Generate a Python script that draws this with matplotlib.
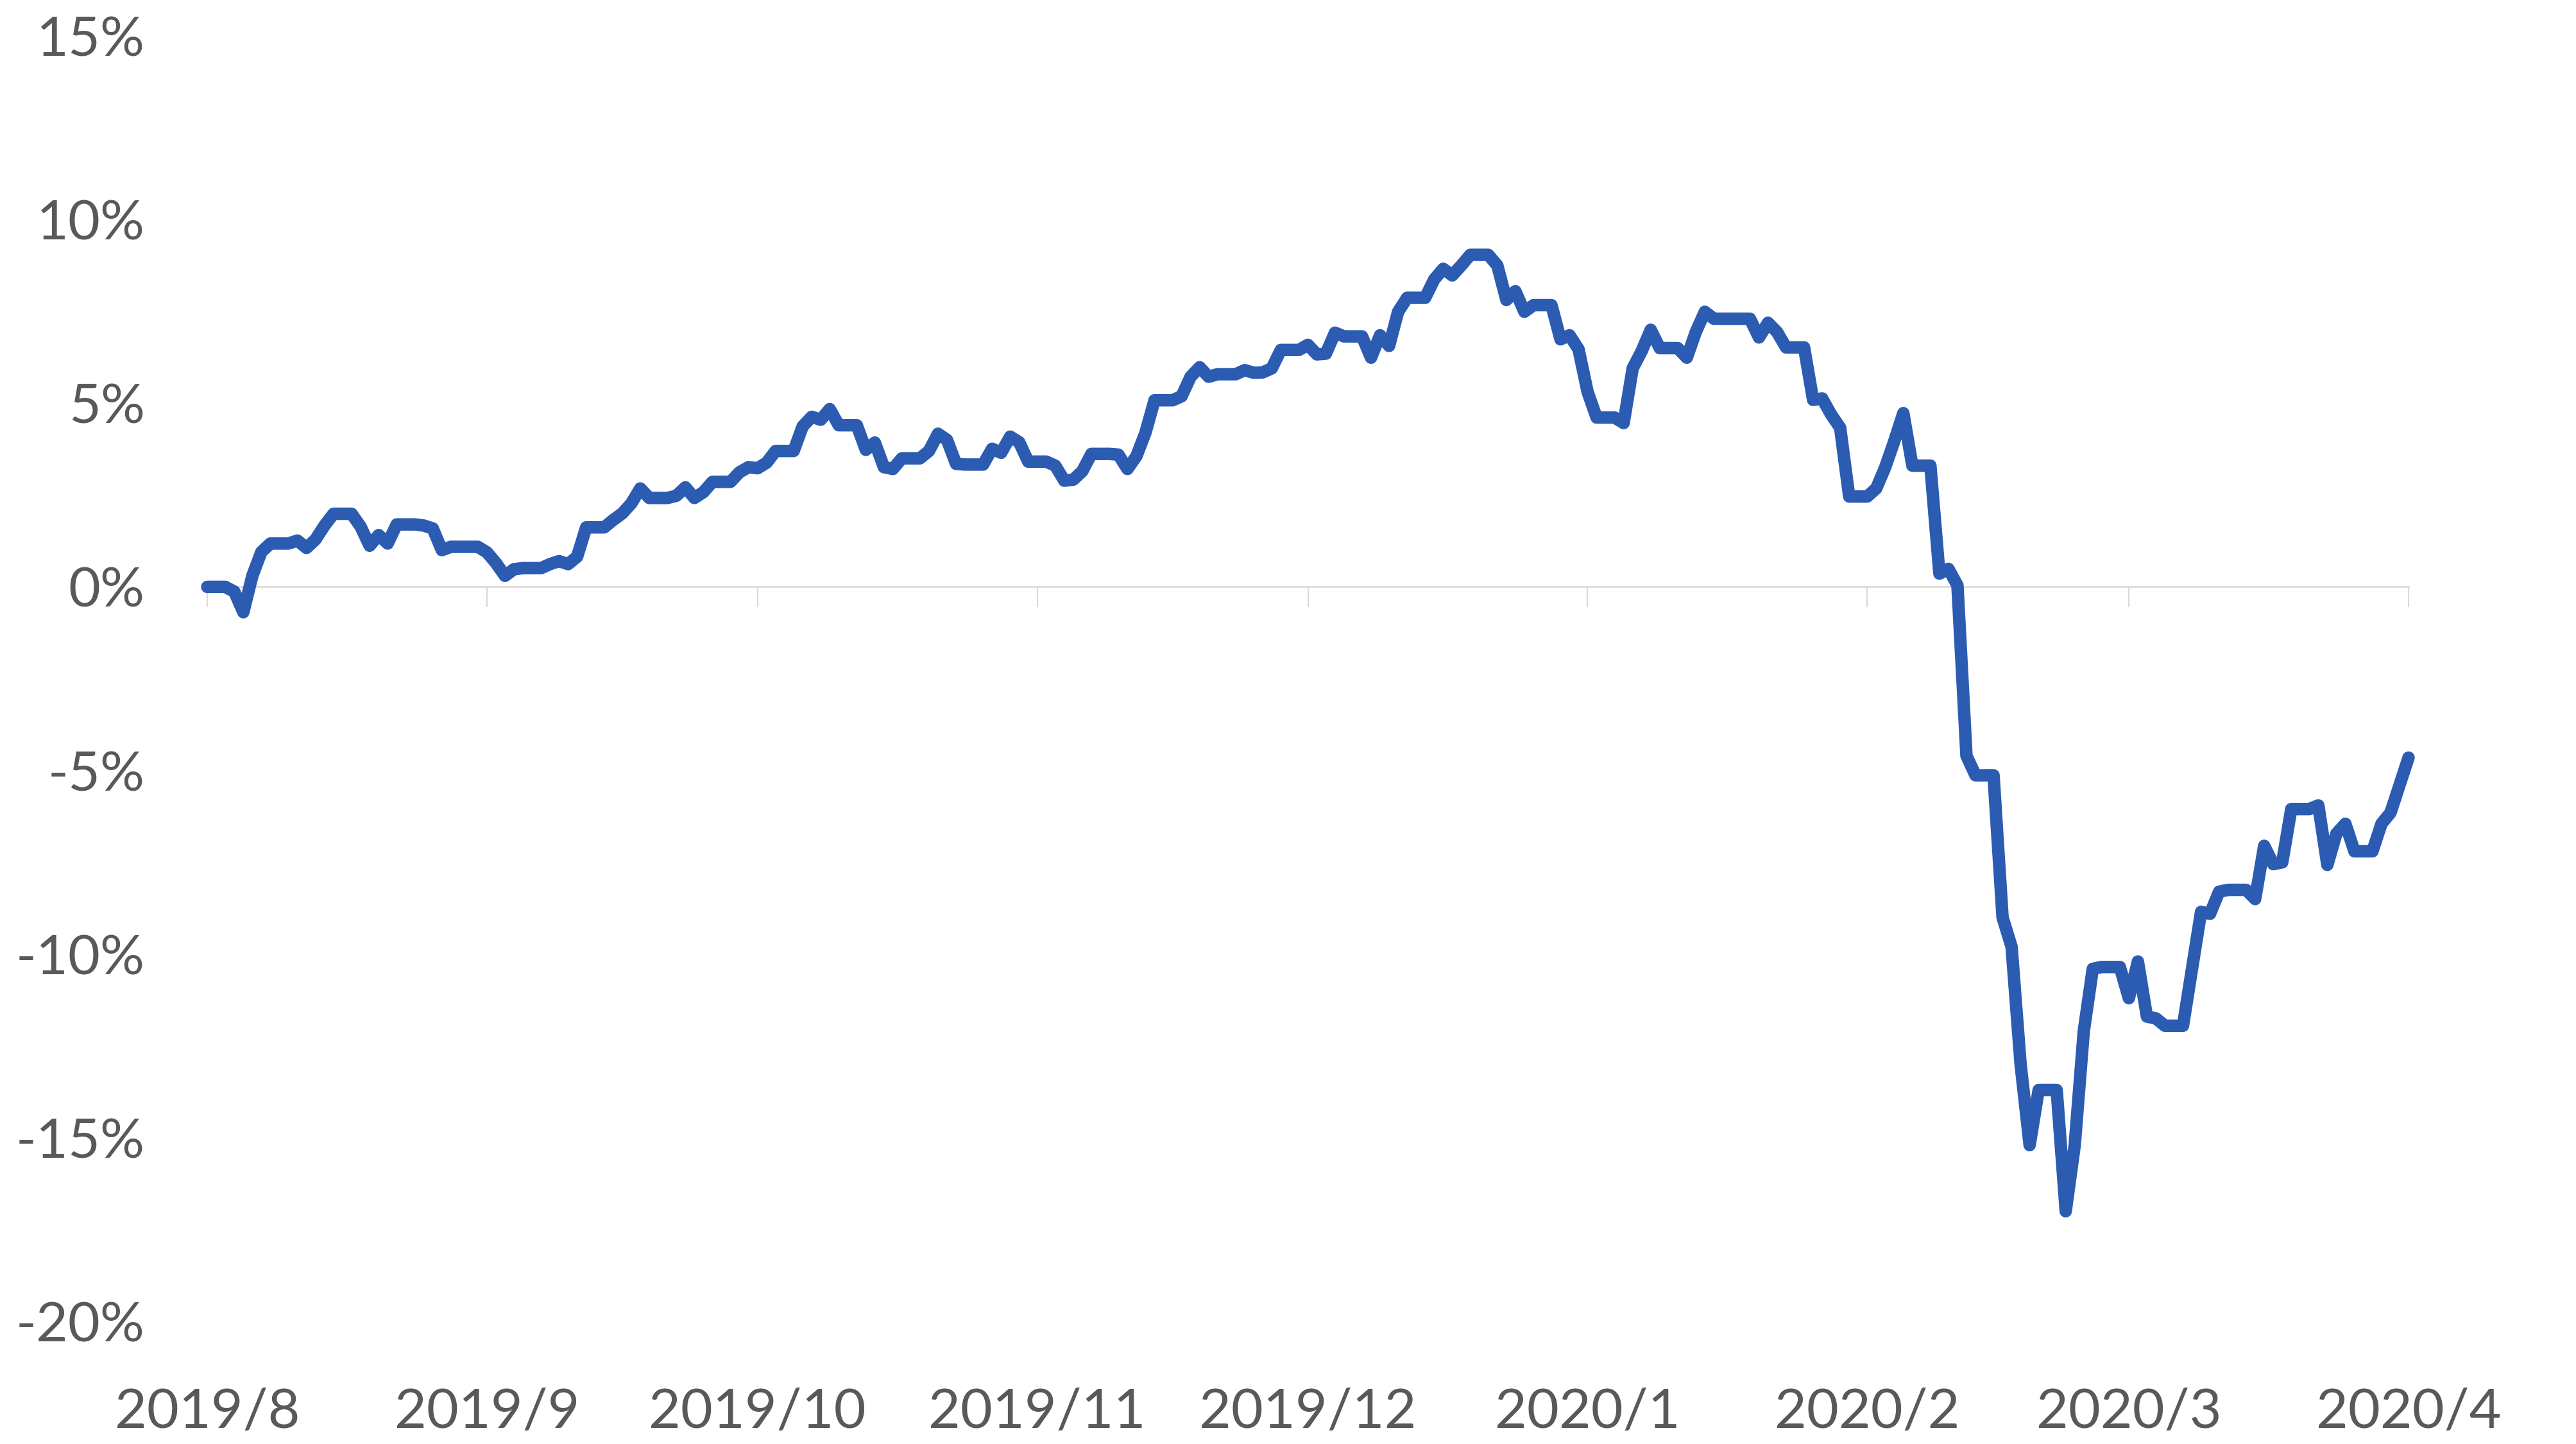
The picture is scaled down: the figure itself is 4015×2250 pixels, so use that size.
import pandas as pd
import matplotlib.pyplot as plt
import matplotlib.dates as mdates

# cumulative return (%), one value per calendar day starting Fri 2019-08-02
# each row is one week: Fri Sat Sun Mon Tue Wed Thu
returns_pct = [
    0.00, 0.00, 0.00, -0.13, -0.69, 0.30, 0.95,
    1.18, 1.18, 1.18, 1.26, 1.06, 1.29, 1.67,
    1.99, 1.99, 1.99, 1.64, 1.12, 1.41, 1.18,
    1.70, 1.70, 1.70, 1.67, 1.59, 1.00, 1.09,
    1.09, 1.09, 1.09, 0.94, 0.65, 0.30, 0.48,
    0.51, 0.51, 0.51, 0.62, 0.70, 0.62, 0.82,
    1.62, 1.62, 1.62, 1.82, 2.00, 2.27, 2.68,
    2.42, 2.42, 2.42, 2.48, 2.71, 2.42, 2.58,
    2.86, 2.86, 2.86, 3.12, 3.26, 3.23, 3.38,
    3.70, 3.70, 3.70, 4.37, 4.63, 4.55, 4.84,
    4.40, 4.40, 4.40, 3.73, 3.93, 3.26, 3.21,
    3.50, 3.50, 3.50, 3.70, 4.17, 4.00, 3.35,
    3.33, 3.33, 3.33, 3.76, 3.65, 4.09, 3.94,
    3.41, 3.41, 3.41, 3.30, 2.89, 2.92, 3.15,
    3.62, 3.62, 3.62, 3.60, 3.21, 3.56, 4.20,
    5.08, 5.08, 5.08, 5.19, 5.72, 5.98, 5.72,
    5.79, 5.79, 5.79, 5.90, 5.83, 5.84, 5.95,
    6.45, 6.45, 6.45, 6.59, 6.33, 6.35, 6.92,
    6.82, 6.82, 6.82, 6.24, 6.85, 6.56, 7.49,
    7.87, 7.87, 7.87, 8.37, 8.66, 8.48, 8.75,
    9.04, 9.04, 9.04, 8.75, 7.81, 8.05, 7.49,
    7.67, 7.67, 7.67, 6.74, 6.85, 6.47, 5.31,
    4.61, 4.61, 4.61, 4.46, 5.95, 6.42, 7.00,
    6.50, 6.50, 6.50, 6.24, 6.94, 7.49, 7.30,
    7.30, 7.30, 7.30, 7.30, 6.79, 7.19, 6.94,
    6.52, 6.52, 6.52, 5.09, 5.13, 4.69, 4.33,
    2.46, 2.46, 2.46, 2.68, 3.26, 3.97, 4.73,
    3.30, 3.30, 3.30, 0.36, 0.49, 0.04, -4.60,
    -5.13, -5.13, -5.13, -9.00, -9.80, -13.00, -15.20,
    -13.70, -13.70, -13.70, -17.00, -15.20, -12.10, -10.40,
    -10.35, -10.35, -10.35, -11.20, -10.20, -11.70, -11.75,
    -11.95, -11.95, -11.95, -10.40, -8.85, -8.90, -8.30,
    -8.25, -8.25, -8.25, -8.50, -7.05, -7.55, -7.50,
    -6.05, -6.05, -6.05, -5.95, -7.57, -6.72, -6.45,
    -7.20, -7.20, -7.20, -6.45, -6.15, -5.40, -4.65,
]
start_date = '2019-08-02'

month_labels = ['2019/8', '2019/9', '2019/10', '2019/11', '2019/12',
                '2020/1', '2020/2', '2020/3', '2020/4']
y_ticks = [-20, -15, -10, -5, 0, 5, 10, 15]
y_labels = [f'{v}%' for v in y_ticks]

dates = pd.date_range(start_date, periods=len(returns_pct), freq='D')
tick_dates = pd.date_range(start_date, periods=len(month_labels),
                           freq=pd.DateOffset(months=1))

plt.rcParams['font.family'] = ['Lato', 'DejaVu Sans']

W, H = 4016, 2250
fig = plt.figure(figsize=(W / 100, H / 100), dpi=100)
ax = fig.add_axes([323 / W, 1 - 2059 / H, (3754 - 323) / W, (2059 - 56) / H])

ax.plot(dates, returns_pct, color='#2B5CB2', lw=14,
        solid_joinstyle='round', solid_capstyle='round',
        clip_on=False, zorder=5)

ax.set_xlim(dates[0], dates[-1])
ax.set_ylim(-20, 15)
ax.set_yticks(y_ticks)
ax.set_yticklabels(y_labels)
ax.set_xticks(tick_dates)
ax.set_xticklabels(month_labels)
for s in ax.spines.values():
    s.set_visible(False)
ax.tick_params(axis='both', length=0, labelsize=62, labelcolor='#595959')
ax.tick_params(axis='y', pad=70)
ax.tick_params(axis='x', pad=74)

# axis line drawn at 0% with downward tick marks
sec = ax.secondary_xaxis(0, transform=ax.transData)
sec.set_xticks(mdates.date2num(tick_dates))
sec.tick_params(axis='x', direction='out', length=23, width=1.5,
                color='#D9D9D9', labelbottom=False)
sec.spines['bottom'].set_color('#D9D9D9')
sec.spines['bottom'].set_linewidth(1.8)
sec.set_zorder(0)

fig.savefig('out.png', dpi=100, facecolor='white')
